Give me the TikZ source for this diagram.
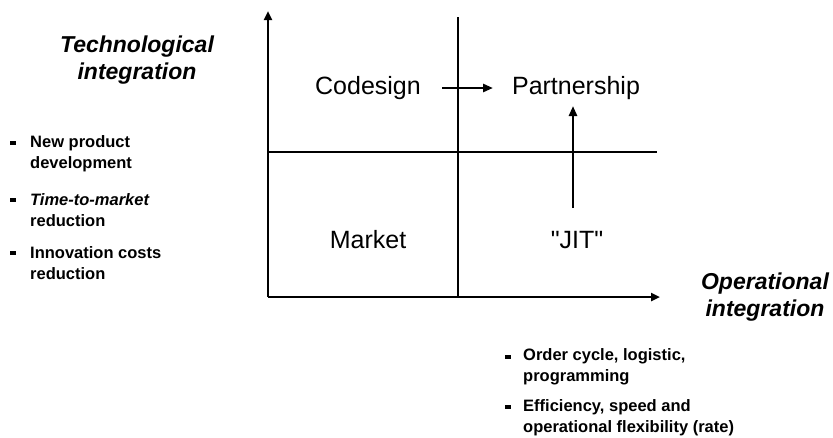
\documentclass[tikz,border=0pt]{standalone}
\usepackage{fontspec}
\setmainfont{Liberation Sans}
\newfontfamily\straightquotes[Ligatures=TeXOff]{Liberation Sans}
\usetikzlibrary{arrows.meta}
\begin{document}
\begin{tikzpicture}[x=1pt,y=-1pt,
  axis/.style={line width=2.8pt,-{Triangle[length=9pt,width=8pt]}},
  divider/.style={line width=1.4pt},
  move/.style={line width=2.8pt,-{Triangle[length=10pt,width=8pt]}},
  quadlabel/.style={font=\fontsize{25}{28}\selectfont},
  axistitle/.style={font=\fontsize{23}{27}\selectfont\bfseries\itshape,align=center},
  itemtext/.style={font=\fontsize{16.5}{21}\selectfont\bfseries,align=left,anchor=west,inner sep=0pt},
  bulletmark/.style={fill=black,minimum width=6pt,minimum height=4pt,inner sep=0pt}]
  \path[use as bounding box] (0,0) rectangle (833,437);

  % axes
  \coordinate (origin) at (268,297);
  \coordinate (ytop) at (268,11);
  \coordinate (xend) at (660,297);
  \draw[axis] (origin) -- (ytop);
  \draw[axis] (origin) -- (xend);

  % quadrant dividers
  \coordinate (vtop) at (458,17);
  \coordinate (vbot) at (458,297);
  \coordinate (hleft) at (268,152);
  \coordinate (hright) at (657,152);
  \draw[divider] (vtop) -- (vbot);
  \draw[divider] (hleft) -- (hright);

  % quadrant labels
  \node[quadlabel] (codesign) at (368,88) {Codesign};
  \node[quadlabel] (partner) at (576,88) {Partnership};
  \node[quadlabel] (market) at (368,240) {Market};
  \node[quadlabel] (jit) at (577,240) {\straightquotes "JIT"};

  % transitions between quadrants
  \coordinate (cs) at (442,88);
  \coordinate (ce) at (493,88);
  \coordinate (js) at (573,208);
  \coordinate (je) at (573,106);
  \draw[move] (cs) -- (ce);
  \draw[move] (js) -- (je);

  % axis titles
  \node[axistitle] (ttitle) at (137,60) {Technological\\integration};
  \node[axistitle] (otitle) at (765,297) {Operational\\integration};

  % technological integration items
  \node[bulletmark] (b1) at (13,143) {};
  \node[itemtext] (t1) at (30,154) {New product\\development};
  \node[bulletmark] (b2) at (13,200) {};
  \node[itemtext] (t2) at (30,210) {\itshape Time-to-market\\\upshape reduction};
  \node[bulletmark] (b3) at (13,253) {};
  \node[itemtext] (t3) at (30,263) {Innovation costs\\reduction};

  % operational integration items
  \node[bulletmark] (b4) at (508,357) {};
  \node[itemtext] (t4) at (523,367) {Order cycle, logistic,\\programming};
  \node[bulletmark] (b5) at (508,407) {};
  \node[itemtext] (t5) at (523,418) {Efficiency, speed and\\operational flexibility (rate)};
\end{tikzpicture}
\end{document}
